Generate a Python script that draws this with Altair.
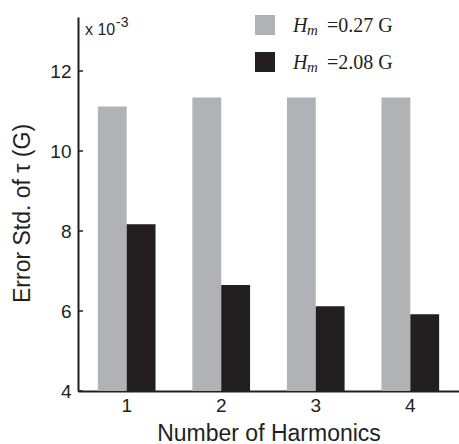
import altair as alt
import pandas as pd

harmonics = ["1", "2", "3", "4"]
low_field = [11.11, 11.34, 11.34, 11.34]   # H_m = 0.27 G
high_field = [8.17, 6.65, 6.12, 5.92]      # H_m = 2.08 G
series = ["low", "high"]
y_ticks = [4, 6, 8, 10, 12]

GRAY = "#b1b2b6"
BLACK = "#231f20"
SANS = "Liberation Sans"
SERIF = "Liberation Serif"

rows = []
for h, a, b in zip(harmonics, low_field, high_field):
    rows.append({"h": h, "s": "low", "v": a, "base": 4})
    rows.append({"h": h, "s": "high", "v": b, "base": 4})
df = pd.DataFrame(rows)
ticks_df = pd.DataFrame({"v": y_ticks})
one = pd.DataFrame({"k": [0]})

yscale = alt.Scale(domain=[4, 13.35], nice=False, zero=False)

bars = alt.Chart(df).mark_bar().encode(
    x=alt.X("h:N", sort=harmonics,
            scale=alt.Scale(paddingInner=0.39, paddingOuter=0.21),
            axis=alt.Axis(title="Number of Harmonics", labelAngle=0, ticks=False,
                          labelFont=SANS, labelFontSize=19, labelColor=BLACK,
                          labelPadding=5, titleFont=SANS, titleFontSize=23,
                          titleFontWeight="normal", titleColor=BLACK, titlePadding=7,
                          domainColor=BLACK, domainWidth=2)),
    xOffset=alt.XOffset("s:N", sort=series, scale=alt.Scale(paddingInner=0, paddingOuter=0)),
    y=alt.Y("v:Q", scale=yscale,
            axis=alt.Axis(title=None, values=y_ticks, tickSize=0, grid=False,
                          labelFont=SANS, labelFontSize=19, labelColor=BLACK,
                          labelPadding=7, domainColor=BLACK, domainWidth=2)),
    y2="base:Q",
    color=alt.Color("s:N", scale=alt.Scale(domain=series, range=[GRAY, BLACK]), legend=None),
)

tick_marks = alt.Chart(ticks_df).mark_rule(color=BLACK, strokeWidth=1.5).encode(
    y=alt.Y("v:Q", scale=yscale),
    x=alt.value(0), x2=alt.value(5),
)

def txt(s, x, y, font=SANS, size=14, style="normal", align="left", angle=0):
    return alt.Chart(one).mark_text(
        text=s, font=font, fontSize=size, fontStyle=style, align=align,
        baseline="alphabetic", color=BLACK, angle=angle,
    ).encode(x=alt.value(x), y=alt.value(y))

def sq(x, y, color):
    return alt.Chart(one).mark_rect(color=color).encode(
        x=alt.value(x), x2=alt.value(x + 20), y=alt.value(y), y2=alt.value(y + 20))

layers = [
    bars, tick_marks,
    # exponent
    txt("x 10", 7, 18, size=16),
    txt("-3", 38, 10, size=14),
    # legend
    sq(177, -2, GRAY), sq(177, 35, BLACK),
    txt("H", 215, 15, font=SERIF, size=20, style="italic"),
    txt("m", 229, 18, font=SERIF, size=15, style="italic"),
    txt("=0.27 G", 249, 15, font=SERIF, size=20),
    txt("H", 215, 52, font=SERIF, size=20, style="italic"),
    txt("m", 229, 55, font=SERIF, size=15, style="italic"),
    txt("=2.08 G", 249, 52, font=SERIF, size=20),
    # y title
    txt("Error  Std. of \u03c4 (G)", -48, 286, size=23, angle=270),
]

chart = alt.layer(*layers).properties(
    width=381, height=374,
    padding={"left": 78, "top": 17, "right": 0, "bottom": 53},
    autosize=alt.AutoSizeParams(type="none"),
    background="white",
).configure_view(stroke=None)

chart.save("out.html", embed_options={"renderer": "svg", "actions": False})
